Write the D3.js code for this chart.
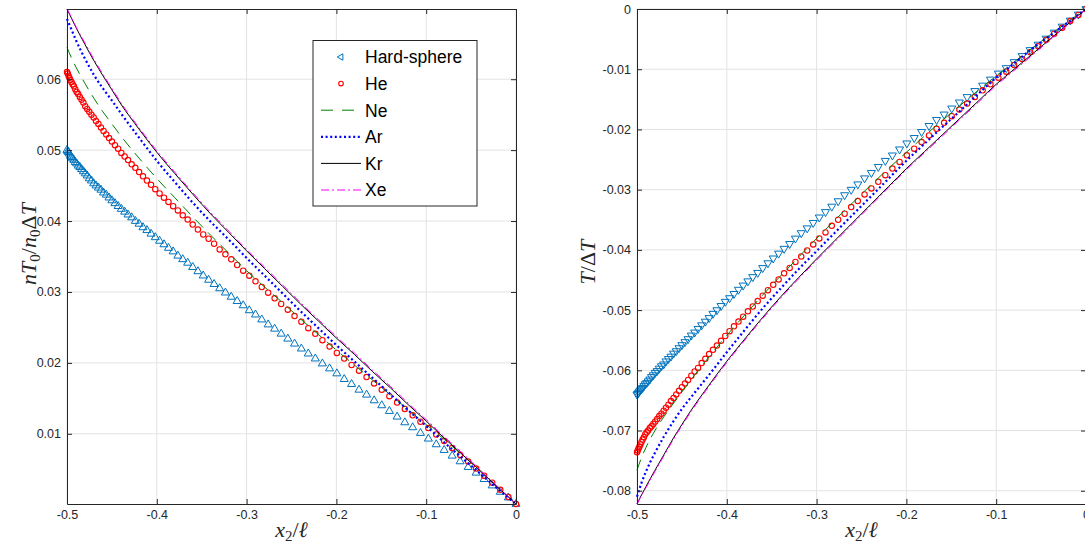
<!DOCTYPE html>
<html><head><meta charset="utf-8">
<script src="https://cdn.jsdelivr.net/npm/d3@7/dist/d3.min.js"></script>
<style>body{margin:0;background:#fff} svg{display:block}</style>
</head><body>
<svg id="chart" width="1085" height="545"></svg>
<script>
// ---------- data ----------
const seriesNames = ["Hard-sphere", "He", "Ne", "Ar", "Kr", "Xe"];
const xTicks = [-0.5, -0.4, -0.3, -0.2, -0.1, 0];
const xTickLabels = ["-0.5", "-0.4", "-0.3", "-0.2", "-0.1", "0"];
const densityTicks = [0.01, 0.02, 0.03, 0.04, 0.05, 0.06];
const densityTickLabels = ["0.01", "0.02", "0.03", "0.04", "0.05", "0.06"];
const tempTicks = [0, -0.01, -0.02, -0.03, -0.04, -0.05, -0.06, -0.07, -0.08];
const tempTickLabels = ["0", "-0.01", "-0.02", "-0.03", "-0.04", "-0.05", "-0.06", "-0.07", "-0.08"];

// marker grid (simulation points)
const xGrid = [-0.5,-0.4992,-0.4983,-0.4973,-0.4962,-0.495,-0.4937,-0.4923,-0.4908,-0.4892,
 -0.4875,-0.4857,-0.4838,-0.4818,-0.4797,-0.4775,-0.4752,-0.4728,-0.4703,-0.4677,
 -0.465,-0.4622,-0.4593,-0.4563,-0.4532,-0.45,-0.4466,-0.4431,-0.4395,-0.4358,
 -0.432,-0.428,-0.4239,-0.4197,-0.4154,-0.411,-0.4064,-0.4017,-0.3969,-0.392,
 -0.387,-0.3818,-0.3765,-0.3711,-0.3656,-0.36,-0.3542,-0.3483,-0.3423,-0.3362,
 -0.33,-0.3236,-0.3171,-0.3105,-0.3038,-0.297,-0.2901,-0.2831,-0.276,-0.2688,
 -0.2615,-0.2541,-0.2466,-0.239,-0.2313,-0.2235,-0.2156,-0.2076,-0.1995,-0.1913,
 -0.1831,-0.1748,-0.1664,-0.158,-0.1495,-0.141,-0.1324,-0.1238,-0.1151,-0.1064,
 -0.0976,-0.0888,-0.08,-0.0711,-0.0622,-0.0533,-0.0444,-0.0355,-0.0265,-0.0175,-0.0085,0];

const hsDensity = [0.0500,0.0498,0.0497,0.0495,0.0492,0.0490,0.0488,0.0486,0.0483,0.0481,
 0.0478,0.0476,0.0473,0.0470,0.0467,0.0464,0.0460,0.0457,0.0453,0.0450,
 0.0447,0.0444,0.0440,0.0437,0.0433,0.0429,0.0425,0.0421,0.0417,0.0413,
 0.0409,0.0405,0.0400,0.0396,0.0391,0.0387,0.0382,0.0377,0.0372,0.0367,
 0.0362,0.0357,0.0351,0.0346,0.0341,0.0335,0.0329,0.0323,0.0317,0.0311,
 0.0305,0.0299,0.0293,0.0287,0.0281,0.0274,0.0268,0.0261,0.0254,0.0248,
 0.0241,0.0234,0.0227,0.0220,0.0213,0.0206,0.0199,0.0192,0.0185,0.0177,
 0.0170,0.0162,0.0155,0.0147,0.0140,0.0132,0.0124,0.0116,0.0109,0.0101,
 0.0093,0.0085,0.0077,0.0069,0.0061,0.0053,0.0045,0.0036,0.0027,0.0018,0.0010,0.0001];

const heDensity = [0.0610,0.0608,0.0605,0.0602,0.0599,0.0596,0.0593,0.0590,0.0586,0.0582,
 0.0579,0.0575,0.0571,0.0567,0.0562,0.0558,0.0554,0.0550,0.0546,0.0541,
 0.0537,0.0532,0.0527,0.0522,0.0517,0.0512,0.0507,0.0502,0.0496,0.0491,
 0.0486,0.0480,0.0475,0.0469,0.0463,0.0457,0.0451,0.0445,0.0439,0.0433,
 0.0427,0.0421,0.0415,0.0408,0.0402,0.0395,0.0388,0.0381,0.0375,0.0368,
 0.0360,0.0353,0.0346,0.0338,0.0330,0.0323,0.0315,0.0307,0.0299,0.0291,
 0.0283,0.0275,0.0266,0.0258,0.0249,0.0241,0.0232,0.0223,0.0214,0.0206,
 0.0197,0.0189,0.0180,0.0171,0.0162,0.0153,0.0144,0.0135,0.0126,0.0117,
 0.0108,0.0099,0.0090,0.0080,0.0070,0.0061,0.0051,0.0041,0.0031,0.0021,0.0011,0.0001];

const hsTemp = [-0.0640,-0.0639,-0.0637,-0.0635,-0.0633,-0.0631,-0.0629,-0.0626,-0.0623,-0.0621,
 -0.0618,-0.0615,-0.0611,-0.0608,-0.0604,-0.0601,-0.0597,-0.0593,-0.0590,-0.0585,
 -0.0581,-0.0577,-0.0572,-0.0568,-0.0563,-0.0558,-0.0553,-0.0548,-0.0542,-0.0537,
 -0.0531,-0.0525,-0.0519,-0.0513,-0.0506,-0.0500,-0.0493,-0.0486,-0.0480,-0.0473,
 -0.0466,-0.0459,-0.0452,-0.0445,-0.0438,-0.0430,-0.0422,-0.0414,-0.0406,-0.0398,
 -0.0390,-0.0381,-0.0372,-0.0364,-0.0355,-0.0346,-0.0337,-0.0328,-0.0319,-0.0309,
 -0.0300,-0.0291,-0.0281,-0.0272,-0.0262,-0.0252,-0.0243,-0.0233,-0.0223,-0.0214,
 -0.0204,-0.0194,-0.0184,-0.0175,-0.0165,-0.0155,-0.0146,-0.0136,-0.0127,-0.0117,
 -0.0107,-0.0098,-0.0088,-0.0078,-0.0068,-0.0059,-0.0049,-0.0039,-0.0029,-0.0019,-0.0009,0];

const heTemp = [-0.0736,-0.0733,-0.0730,-0.0727,-0.0723,-0.0719,-0.0715,-0.0711,-0.0706,-0.0703,
 -0.0700,-0.0696,-0.0693,-0.0689,-0.0685,-0.0681,-0.0676,-0.0672,-0.0667,-0.0662,
 -0.0657,-0.0651,-0.0646,-0.0640,-0.0634,-0.0628,-0.0622,-0.0616,-0.0609,-0.0602,
 -0.0596,-0.0588,-0.0581,-0.0573,-0.0566,-0.0559,-0.0551,-0.0543,-0.0535,-0.0527,
 -0.0519,-0.0511,-0.0502,-0.0494,-0.0485,-0.0476,-0.0467,-0.0458,-0.0449,-0.0439,
 -0.0430,-0.0420,-0.0411,-0.0401,-0.0391,-0.0381,-0.0371,-0.0360,-0.0350,-0.0340,
 -0.0329,-0.0319,-0.0308,-0.0298,-0.0287,-0.0276,-0.0265,-0.0254,-0.0243,-0.0232,
 -0.0221,-0.0210,-0.0199,-0.0189,-0.0178,-0.0167,-0.0157,-0.0146,-0.0135,-0.0125,
 -0.0114,-0.0104,-0.0093,-0.0083,-0.0072,-0.0062,-0.0051,-0.0041,-0.0031,-0.0020,-0.0010,0];

// line grid (model curves)
const xLine = [-0.5,-0.495,-0.49,-0.48,-0.47,-0.46,-0.45,-0.44,-0.42,-0.4,-0.38,-0.36,-0.34,-0.32,-0.3,
 -0.28,-0.26,-0.24,-0.22,-0.2,-0.18,-0.16,-0.14,-0.12,-0.1,-0.08,-0.06,-0.04,-0.02,0];

const neDensity = [0.0645,0.0630,0.0617,0.0594,0.0573,0.0554,0.0537,0.0520,0.0489,0.0460,0.0433,0.0406,0.0380,0.0355,0.0330,
 0.0307,0.0285,0.0262,0.0240,0.0218,0.0197,0.0176,0.0155,0.0134,0.0113,0.0092,0.0070,0.0048,0.0025,0.0001];
const arDensity = [0.0685,0.0670,0.0655,0.0629,0.0606,0.0587,0.0570,0.0552,0.0518,0.0485,0.0455,0.0426,0.0399,0.0374,0.0348,
 0.0323,0.0298,0.0273,0.0249,0.0225,0.0202,0.0179,0.0156,0.0133,0.0111,0.0088,0.0066,0.0044,0.0022,0.0001];
const krDensity = [0.0699,0.0686,0.0673,0.0649,0.0626,0.0605,0.0585,0.0565,0.0530,0.0497,0.0467,0.0438,0.0410,0.0384,0.0358,
 0.0333,0.0308,0.0283,0.0259,0.0235,0.0212,0.0188,0.0165,0.0141,0.0118,0.0094,0.0071,0.0048,0.0024,0.0001];
const xeDensity = [0.0699,0.0687,0.0674,0.0651,0.0628,0.0607,0.0587,0.0567,0.0532,0.0499,0.0469,0.0440,0.0412,0.0386,0.0360,
 0.0335,0.0310,0.0285,0.0261,0.0237,0.0214,0.0190,0.0167,0.0143,0.0120,0.0096,0.0073,0.0049,0.0025,0.0001];

const neTemp = [-0.0766,-0.0745,-0.0728,-0.0700,-0.0677,-0.0656,-0.0636,-0.0616,-0.0578,-0.0542,-0.0508,-0.0475,-0.0443,-0.0412,-0.0381,
 -0.0351,-0.0322,-0.0293,-0.0265,-0.0238,-0.0211,-0.0185,-0.0160,-0.0135,-0.0111,-0.0088,-0.0065,-0.0043,-0.0021,0];
const arTemp = [-0.0810,-0.0787,-0.0768,-0.0737,-0.0710,-0.0686,-0.0664,-0.0645,-0.0608,-0.0570,-0.0533,-0.0497,-0.0464,-0.0432,-0.0402,
 -0.0372,-0.0342,-0.0312,-0.0282,-0.0252,-0.0224,-0.0196,-0.0169,-0.0141,-0.0114,-0.0090,-0.0066,-0.0044,-0.0022,0];
const krTemp = [-0.0822,-0.0807,-0.0793,-0.0766,-0.0740,-0.0714,-0.0690,-0.0667,-0.0625,-0.0585,-0.0548,-0.0512,-0.0478,-0.0446,-0.0415,
 -0.0385,-0.0355,-0.0325,-0.0295,-0.0265,-0.0237,-0.0209,-0.0181,-0.0153,-0.0125,-0.0100,-0.0075,-0.0050,-0.0025,0];
const xeTemp = [-0.0822,-0.0808,-0.0795,-0.0768,-0.0742,-0.0716,-0.0692,-0.0669,-0.0627,-0.0587,-0.0550,-0.0514,-0.0480,-0.0448,-0.0417,
 -0.0387,-0.0357,-0.0327,-0.0297,-0.0267,-0.0239,-0.0211,-0.0183,-0.0155,-0.0127,-0.0102,-0.0077,-0.0051,-0.0026,0];

// ---------- styles ----------
const colors = {hs:"#0072BD", he:"#FF0000", ne:"#008000", ar:"#0000FF", kr:"#000000", xe:"#FF00FF"};
const axisColor = "#262626";
const gridColor = "#e3e3e3";
const tickFont = "'Liberation Sans', Arial, Helvetica, sans-serif";
const mathFont = "'Liberation Serif', 'DejaVu Serif', serif";
const mathSize = "22px", subSize = "15px";

const svg = d3.select("#chart");
svg.append("rect").attr("width", 1085).attr("height", 545).attr("fill", "#fff");

const panels = [
  {left:67, right:516, top:9, bottom:504, yDomain:[0.0001, 0.0699], yTicks:densityTicks, yLabels:densityTickLabels,
   hs:hsDensity, he:heDensity, ne:neDensity, ar:arDensity, kr:krDensity, xe:xeDensity, tri:0},
  {left:637, right:1086, top:9, bottom:504, yDomain:[-0.0822, 0], yTicks:tempTicks, yLabels:tempTickLabels,
   hs:hsTemp, he:heTemp, ne:neTemp, ar:arTemp, kr:krTemp, xe:xeTemp, tri:180}
];

panels.forEach((p, pi) => {
  const x = d3.scaleLinear().domain([-0.5, 0]).range([p.left, p.right]);
  const y = d3.scaleLinear().domain(p.yDomain).range([p.bottom, p.top]);
  const g = svg.append("g");

  // grid
  g.append("g").selectAll("line.vx").data(xTicks).join("line")
    .attr("x1", d => x(d)).attr("x2", d => x(d)).attr("y1", p.top).attr("y2", p.bottom)
    .attr("stroke", gridColor).attr("stroke-width", 1);
  g.append("g").selectAll("line.hy").data(p.yTicks).join("line")
    .attr("x1", p.left).attr("x2", p.right).attr("y1", d => y(d)).attr("y2", d => y(d))
    .attr("stroke", gridColor).attr("stroke-width", 1);

  const clipId = "clip" + pi;
  svg.append("clipPath").attr("id", clipId).append("rect")
    .attr("x", p.left - 6).attr("y", p.top - 6).attr("width", p.right - p.left + 12).attr("height", p.bottom - p.top + 12);
  const plot = g.append("g").attr("clip-path", `url(#${clipId})`);

  // hard-sphere markers
  const triPath = d3.symbol(d3.symbolTriangle, 28)();
  plot.append("g").selectAll("path").data(xGrid).join("path")
    .attr("d", triPath)
    .attr("transform", (d, i) => `translate(${x(d)},${y(p.hs[i])}) rotate(${p.tri})`)
    .attr("fill", "none").attr("stroke", colors.hs).attr("stroke-width", 1);

  // He markers
  plot.append("g").selectAll("circle").data(xGrid).join("circle")
    .attr("cx", d => x(d)).attr("cy", (d, i) => y(p.he[i])).attr("r", 2.7)
    .attr("fill", "none").attr("stroke", colors.he).attr("stroke-width", 1.1);

  const line = vals => d3.line().x(d => x(d)).y((d, i) => y(vals[i])).curve(d3.curveMonotoneX)(xLine);
  plot.append("path").attr("d", line(p.ne)).attr("fill", "none").attr("stroke", colors.ne)
    .attr("stroke-width", 1).attr("stroke-dasharray", "11,7");
  plot.append("path").attr("d", line(p.ar)).attr("fill", "none").attr("stroke", colors.ar)
    .attr("stroke-width", 2.2).attr("stroke-dasharray", "2,2.6");
  plot.append("path").attr("d", line(p.kr)).attr("fill", "none").attr("stroke", colors.kr)
    .attr("stroke-width", 1);
  plot.append("path").attr("d", line(p.xe)).attr("fill", "none").attr("stroke", colors.xe)
    .attr("stroke-width", 1).attr("stroke-dasharray", "8,3,2,3");

  // axes
  const xAxis = d3.axisBottom(x).tickValues(xTicks).tickFormat((d, i) => xTickLabels[i])
    .tickSizeInner(-5).tickSizeOuter(0).tickPadding(6);
  const yAxis = d3.axisLeft(y).tickValues(p.yTicks).tickFormat((d, i) => p.yLabels[i])
    .tickSizeInner(-5).tickSizeOuter(0).tickPadding(6);
  const xTop = d3.axisTop(x).tickValues(xTicks).tickFormat("").tickSizeInner(-5).tickSizeOuter(0);
  const yRight = d3.axisRight(y).tickValues(p.yTicks).tickFormat("").tickSizeInner(-5).tickSizeOuter(0);

  const styleAxis = sel => {
    sel.selectAll("path.domain").attr("stroke", axisColor).attr("stroke-width", 1);
    sel.selectAll(".tick line").attr("stroke", axisColor).attr("stroke-width", 1);
    sel.selectAll(".tick text").attr("fill", axisColor).style("font-family", tickFont).style("font-size", "12.5px");
  };
  g.append("g").attr("transform", `translate(0,${p.bottom})`).call(xAxis).call(styleAxis);
  g.append("g").attr("transform", `translate(${p.left},0)`).call(yAxis).call(styleAxis);
  g.append("g").attr("transform", `translate(0,${p.top})`).call(xTop).call(styleAxis);
  g.append("g").attr("transform", `translate(${p.right},0)`).call(yRight).call(styleAxis);

  // x label: x_2 / ell
  const xl = g.append("text").attr("x", (p.left + p.right) / 2).attr("y", 537)
    .attr("text-anchor", "middle").style("font-family", mathFont).style("font-size", mathSize).attr("fill", axisColor);
  xl.append("tspan").style("font-style", "italic").text("x");
  xl.append("tspan").attr("dy", 4).style("font-size", subSize).text("2");
  xl.append("tspan").attr("dy", -4).text("/");
  xl.append("tspan").style("font-style", "italic").text("\u2113");
});

// y labels
{
  const yl = svg.append("text").attr("transform", "translate(36,244) rotate(-90)")
    .attr("text-anchor", "middle").style("font-family", mathFont).style("font-size", mathSize).attr("fill", axisColor);
  yl.append("tspan").style("font-style", "italic").text("nT");
  yl.append("tspan").attr("dy", 4).style("font-size", subSize).text("0");
  yl.append("tspan").attr("dy", -4).text("/");
  yl.append("tspan").style("font-style", "italic").text("n");
  yl.append("tspan").attr("dy", 4).style("font-size", subSize).text("0");
  yl.append("tspan").attr("dy", -4).text("\u0394");
  yl.append("tspan").style("font-style", "italic").text("T");

  const yr = svg.append("text").attr("transform", "translate(595,262) rotate(-90)")
    .attr("text-anchor", "middle").style("font-family", mathFont).style("font-size", mathSize).attr("fill", axisColor);
  yr.append("tspan").style("font-style", "italic").text("T");
  yr.append("tspan").text("/\u0394");
  yr.append("tspan").style("font-style", "italic").text("T");
}

// legend
{
  const lg = svg.append("g");
  const lx = 313, ly = 40.5, lw = 164, lh = 165.5;
  lg.append("rect").attr("x", lx).attr("y", ly).attr("width", lw).attr("height", lh)
    .attr("fill", "#fff").attr("stroke", axisColor).attr("stroke-width", 1);
  const rowY = i => 57 + i * 26.6;
  const sx0 = 321, sx1 = 361, tx = 365;
  seriesNames.forEach((name, i) => {
    lg.append("text").attr("x", tx).attr("y", rowY(i) + 6.3).text(name)
      .style("font-family", tickFont).style("font-size", "17.5px").attr("fill", "#000");
  });
  lg.append("path").attr("d", d3.symbol(d3.symbolTriangle, 18)())
    .attr("transform", `translate(341,${rowY(0)}) rotate(-90)`)
    .attr("fill", "none").attr("stroke", colors.hs).attr("stroke-width", 1);
  lg.append("circle").attr("cx", 341).attr("cy", rowY(1)).attr("r", 2.3)
    .attr("fill", "none").attr("stroke", colors.he).attr("stroke-width", 1.1);
  const seg = (i, color, w, dash) => lg.append("line").attr("x1", sx0).attr("x2", sx1)
    .attr("y1", rowY(i)).attr("y2", rowY(i)).attr("stroke", color).attr("stroke-width", w)
    .attr("stroke-dasharray", dash);
  seg(2, colors.ne, 1, "12,9");
  seg(3, colors.ar, 2.2, "2,2.6");
  seg(4, colors.kr, 1, null);
  seg(5, colors.xe, 1, "8,3,2,3");
}
</script>
</body></html>
